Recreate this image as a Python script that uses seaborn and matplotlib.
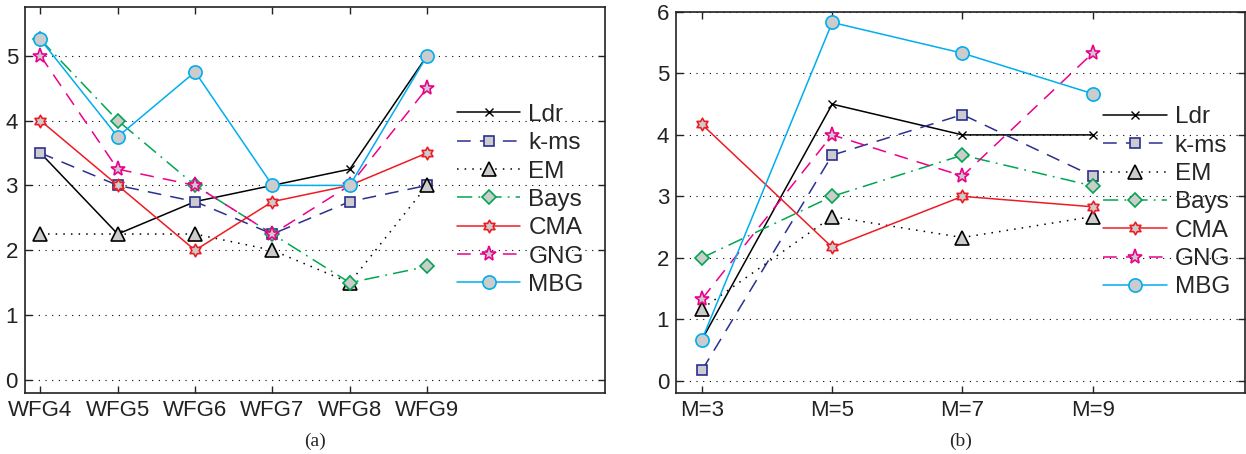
import numpy as np
import pandas as pd
import matplotlib
matplotlib.use('Agg')
import matplotlib.pyplot as plt
from matplotlib.path import Path
import seaborn as sns

# panel (a): WFG problems
wfg_labels = ['WFG4', 'WFG5', 'WFG6', 'WFG7', 'WFG8', 'WFG9']
a_ldr  = [3.5, 2.25, 2.75, 3.0, 3.25, 5.0]
a_kms  = [3.5, 3.0, 2.75, 2.25, 2.75, 3.0]
a_em   = [2.25, 2.25, 2.25, 2.0, 1.5, 3.0]
a_bays = [5.25, 4.0, 3.0, 2.25, 1.5, 1.75]
a_cma  = [4.0, 3.0, 2.0, 2.75, 3.0, 3.5]
a_gng  = [5.0, 3.25, 3.0, 2.25, 3.0, 4.5]
a_mbg  = [5.25, 3.75, 4.75, 3.0, 3.0, 5.0]

# panel (b): number of objectives
m_labels = ['M=3', 'M=5', 'M=7', 'M=9']
b_ldr  = [0.67, 4.5, 4.0, 4.0]
b_kms  = [0.17, 3.67, 4.33, 3.33]
b_em   = [1.17, 2.67, 2.33, 2.67]
b_bays = [2.0, 3.0, 3.67, 3.17]
b_cma  = [4.17, 2.17, 3.0, 2.83]
b_gng  = [1.33, 4.0, 3.33, 5.33]
b_mbg  = [0.67, 5.83, 5.33, 4.67]

names = ['Ldr', 'k-ms', 'EM', 'Bays', 'CMA', 'GNG', 'MBG']

sns.set_theme(style='white')
plt.rcParams['font.family'] = ['Liberation Sans', 'DejaVu Sans']

# hexagram marker (two triangles)
ang = np.deg2rad(90 + 30 * np.arange(12))
rad = np.where(np.arange(12) % 2 == 0, 1.0, 0.577)
hexv = np.column_stack([rad * np.cos(ang), rad * np.sin(ang)])
hexv = np.vstack([hexv, hexv[:1]])
hexagram = Path(hexv, closed=True)

# colour, marker, dash, marker size
styles = {
    'Ldr':  ('black',   'x',      None,              6),
    'k-ms': ('#2b2f8f', 's',      (9, 6),            6.5),
    'EM':   ('black',   '^',      (1, 4),            10),
    'Bays': ('#00a650', 'D',      (10, 4, 1.2, 4),   7),
    'CMA':  ('#ed1c24', hexagram, None,              9),
    'GNG':  ('#ec008c', '*',      (9, 6),            11),
    'MBG':  ('#00aeef', 'o',      None,              9.5),
}

fig = plt.figure(figsize=(12.46, 4.54), dpi=100)
ax_a = fig.add_axes([0.020, 0.1344, 0.4656, 0.8502])
ax_b = fig.add_axes([0.5425, 0.1344, 0.4567, 0.8392])


def draw(ax, labels, series, xmax, ylim, yticks, leg_x):
    x = np.arange(len(labels))
    for name, vals in zip(names, series):
        c, m, d, ms = styles[name]
        df = pd.DataFrame({'x': x, 'y': vals})
        kw = dict(color=c, marker=m, markersize=ms, mec=c, mfc='0.8',
                  mew=1.2 if name != 'Ldr' else 1.0, linewidth=1.1,
                  label=name, ax=ax)
        if d is not None:
            kw['dashes'] = d
        sns.lineplot(data=df, x='x', y='y', **kw)
    ax.set_xlim(-0.2, xmax)
    ax.set_ylim(*ylim)
    ax.set_xticks(x)
    ax.set_xticklabels(labels, fontsize=16)
    ax.set_yticks(yticks)
    ax.set_yticklabels([str(t) for t in yticks], fontsize=16)
    ax.set_xlabel('')
    ax.set_ylabel('')
    ax.grid(False)
    for t in yticks:
        ax.axhline(t, color='black', linestyle=(0, (1, 5)), linewidth=0.8,
                   zorder=0)
    ax.tick_params(direction='in', length=5, width=1, top=True, right=True,
                   bottom=True, left=True, colors='#222222', pad=5)
    for sp in ax.spines.values():
        sp.set_color('#222222')
        sp.set_linewidth(1.2)
        sp.set_visible(True)
    leg = ax.legend(loc='center left', bbox_to_anchor=(leg_x, 0.5),
                    frameon=False, fontsize=17.5, handlelength=2.6,
                    handletextpad=0.33, labelspacing=0.26, borderpad=0,
                    borderaxespad=0)
    return leg


draw(ax_a, wfg_labels, [a_ldr, a_kms, a_em, a_bays, a_cma, a_gng, a_mbg],
     7.3, (-0.2, 5.75), [0, 1, 2, 3, 4, 5], 0.745)
draw(ax_b, m_labels, [b_ldr, b_kms, b_em, b_bays, b_cma, b_gng, b_mbg],
     4.17, (-0.2, 6.0), [0, 1, 2, 3, 4, 5, 6], 0.751)

fig.text(0.253, 0.008, '(a)', ha='center', va='bottom', fontsize=14,
         family=['Liberation Serif', 'DejaVu Serif'])
fig.text(0.771, 0.008, '(b)', ha='center', va='bottom', fontsize=14,
         family=['Liberation Serif', 'DejaVu Serif'])

fig.savefig('out.png', dpi=100)
